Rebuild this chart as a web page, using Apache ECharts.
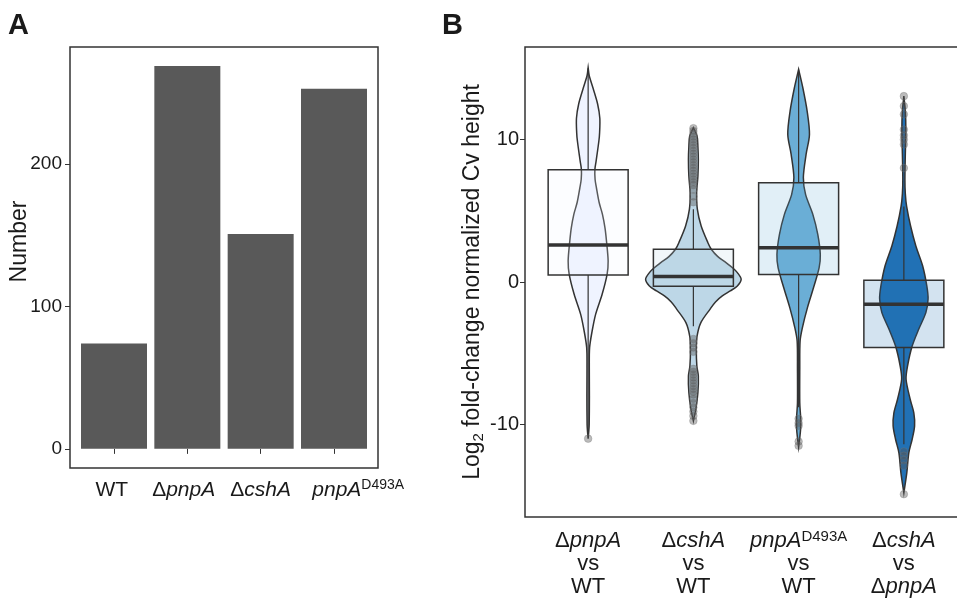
<!DOCTYPE html>
<html><head><meta charset="utf-8">
<script src="https://cdn.jsdelivr.net/npm/echarts@6/dist/echarts.min.js"></script>
<style>html,body{margin:0;padding:0;background:#fff}#c{width:957px;height:601px}</style>
</head><body><div id="c"></div>
<script>
// ---------- Panel A data ----------
const countCategories = ['WT', 'ΔpnpA', 'ΔcshA', 'pnpA^D493A'];
const countValues = [74, 269, 151, 253];
const countTicks = [0, 100, 200];

// ---------- Panel B data ----------
const compareCategories = [
  ['ΔpnpA', 'vs', 'WT'],
  ['ΔcshA', 'vs', 'WT'],
  ['pnpA^D493A', 'vs', 'WT'],
  ['ΔcshA', 'vs', 'ΔpnpA']
];
const fcTicks = [-10, 0, 10];
const violinColors = ['#eff3ff', '#bdd7e7', '#6baed6', '#2171b5'];

const boxQ1 = [0.49, -0.30, 0.52, -4.60];
const boxMedian = [2.60, 0.38, 2.41, -1.56];
const boxQ3 = [7.89, 2.30, 6.97, 0.12];
const whiskerLow = [-10.45, -3.1, -8.8, -11.4];
const whiskerHigh = [15.0, 5.1, 14.9, 5.3];

// violin outlines: [log2FC, half-width]
const violin1 = [[15.05,0],[14.5,0.01],[13.6,0.047],[12.5,0.09],[11.5,0.111],[10.5,0.109],[9.9,0.102],[8.5,0.076],[7.9,0.064],[7.2,0.066],[6.6,0.079],[5.6,0.104],[4.75,0.136],[3.8,0.16],[2.9,0.174],[1.47,0.19],[0.54,0.18],[-0.86,0.133],[-2.27,0.071],[-3.44,0.038],[-4.6,0.014],[-6,0.011],[-8,0.012],[-10,0.01],[-10.5,0.006],[-11.0,0]];
const violin2 = [[10.83,0],[10.25,0.035],[9.5,0.043],[8.6,0.047],[7.44,0.043],[6.27,0.031],[5.1,0.038],[3.93,0.074],[2.76,0.138],[2.3,0.17],[1.8,0.23],[1.36,0.31],[0.95,0.38],[0.66,0.418],[0.19,0.454],[-0.28,0.418],[-0.63,0.35],[-0.98,0.275],[-1.4,0.21],[-1.9,0.159],[-2.85,0.071],[-3.8,0.035],[-4.7,0.028],[-5.9,0.033],[-6.6,0.047],[-7.76,0.043],[-8.9,0.024],[-9.75,0]];
const violin3 = [[14.93,0],[13.64,0.04],[12.0,0.081],[10.36,0.103],[8.96,0.071],[7.33,0.045],[6.15,0.066],[4.75,0.135],[3.35,0.182],[1.94,0.206],[1.01,0.195],[-0.39,0.142],[-1.8,0.084],[-3.2,0.036],[-4.14,0.014],[-6,0.011],[-8.5,0.011],[-9.5,0.019],[-10.3,0.019],[-11,0.01],[-11.6,0]];
const violin4 = [[13.05,0],[12,0.014],[10.7,0.019],[9,0.014],[7.2,0.01],[6.2,0.014],[5.33,0.026],[3.93,0.064],[2.53,0.114],[1.12,0.179],[-0.28,0.218],[-1.2,0.23],[-2.15,0.209],[-3.3,0.142],[-4.5,0.079],[-5.9,0.035],[-6.83,0.021],[-8.23,0.06],[-9.2,0.095],[-10.1,0.102],[-11.04,0.079],[-12.0,0.047],[-13.4,0.028],[-14.8,0]];

const outliers1 = [-11.0];
const outliers2 = [5.6,6.0,6.5,6.8,7.0,7.2,7.4,7.6,7.8,8.0,8.2,8.4,8.6,8.8,9.0,9.2,9.4,9.6,9.8,10.0,10.2,10.4,10.6,10.8,-4.0,-4.3,-4.6,-4.9,-6.1,-6.3,-6.5,-6.7,-6.9,-7.1,-7.3,-7.5,-7.7,-7.9,-8.2,-8.5,-8.8,-9.1,-9.4,-9.75];
const outliers3 = [-9.6,-9.9,-10.1,-11.2,-11.5];
const outliers4 = [8.0,9.66,10.0,10.3,10.7,11.77,12.35,13.05,-11.9,-12.2,-12.5,-12.9,-14.9];

const violins = [violin1, violin2, violin3, violin4];
const outliers = [outliers1, outliers2, outliers3, outliers4];

function richLabel(s) {
  let main = s, sup = '', out = '';
  if (s.indexOf('^') >= 0) { const p = s.split('^'); main = p[0]; sup = p[1]; }
  if (main.charAt(0) === 'Δ') { out += '{d|Δ}'; main = main.slice(1); }
  const plain = (main === 'WT' || main === 'vs');
  out += '{' + (plain ? 'n' : 'i') + '|' + main + '}';
  if (sup) out += '{s|' + sup + '}';
  return out;
}

const FONT = '"Liberation Sans", Arial, Helvetica, sans-serif';
const INK = '#333333';
function rich(fs, supFs, lh) {
  return {
    n: { fontFamily: FONT, fontSize: fs, color: '#1a1a1a', lineHeight: lh },
    d: { fontFamily: FONT, fontSize: fs, color: '#1a1a1a', lineHeight: lh },
    i: { fontFamily: FONT, fontSize: fs, fontStyle: 'italic', color: '#1a1a1a', lineHeight: lh },
    s: { fontFamily: FONT, fontSize: supFs, color: '#1a1a1a', verticalAlign: 'top', lineHeight: supFs }
  };
}

const chart = echarts.init(document.getElementById('c'), null, { renderer: 'canvas' });

const option = {
  backgroundColor: '#ffffff',
  animation: false,
  title: [
    { text: 'A', left: 3, top: 6, textStyle: { fontFamily: FONT, fontWeight: 'bold', fontSize: 29, color: '#1a1a1a' } },
    { text: 'B', left: 437, top: 6, textStyle: { fontFamily: FONT, fontWeight: 'bold', fontSize: 29, color: '#1a1a1a' } }
  ],
  grid: [
    { left: 70, top: 47, width: 308, height: 421, show: true, borderColor: INK, borderWidth: 1.5, backgroundColor: 'transparent', outerBoundsMode: 'none' },
    { left: 525, top: 47, width: 442, height: 470, show: true, borderColor: INK, borderWidth: 1.5, backgroundColor: 'transparent', outerBoundsMode: 'none' }
  ],
  xAxis: [
    {
      gridIndex: 0, type: 'value', min: 0.4, max: 4.6,
      axisLine: { show: false }, splitLine: { show: false },
      axisTick: { show: true, customValues: [1, 2, 3, 4], length: 5, lineStyle: { color: INK, width: 1 } },
      axisLabel: {
        // the last label sits a little right of its tick in the reference
        customValues: [0.97, 1.95, 3.0, 4.33], margin: 10, hideOverlap: false,
        formatter: function (v) {
          const idx = Math.round(v) - 1;
          return richLabel(countCategories[idx]);
        },
        rich: rich(21, 14, 24)
      }
    },
    {
      gridIndex: 1, type: 'value', min: 0.4, max: 4.6,
      axisLine: { show: false }, splitLine: { show: false },
      axisTick: { show: true, customValues: [1, 2, 3, 4], length: 5, lineStyle: { color: INK, width: 1 } },
      axisLabel: {
        customValues: [1, 2, 3, 4], margin: 12, hideOverlap: false,
        formatter: function (v) {
          const idx = Math.round(v) - 1;
          return compareCategories[idx].map(richLabel).join('\n');
        },
        rich: rich(22, 15, 23)
      }
    }
  ],
  yAxis: [
    {
      gridIndex: 0, type: 'value', min: -13.45, max: 282.4,
      axisLine: { show: false }, splitLine: { show: false },
      axisTick: { show: true, customValues: countTicks, length: 5, lineStyle: { color: INK, width: 1 } },
      axisLabel: { customValues: countTicks, margin: 8, fontFamily: FONT, fontSize: 19, color: '#1a1a1a' },
      name: 'Number', nameLocation: 'middle', nameGap: 37, nameMoveOverlap: false,
      nameTextStyle: { fontFamily: FONT, fontSize: 23, color: '#1a1a1a', lineHeight: 26, padding: [0, 0, 0, 32] }
    },
    {
      gridIndex: 1, type: 'value', min: -16.5, max: 16.5,
      axisLine: { show: false }, splitLine: { show: false },
      axisTick: { show: true, customValues: fcTicks, length: 5, lineStyle: { color: INK, width: 1 } },
      axisLabel: { customValues: fcTicks, margin: 6, fontFamily: FONT, fontSize: 20, color: '#1a1a1a' },
      name: '{n|Log}{b|2}{n| fold-change normalized Cv height}', nameLocation: 'middle', nameGap: 39, nameMoveOverlap: false,
      nameTextStyle: {
        rich: {
          n: { fontFamily: FONT, fontSize: 23, color: '#1a1a1a', lineHeight: 26 },
          b: { fontFamily: FONT, fontSize: 15, color: '#1a1a1a', verticalAlign: 'bottom', lineHeight: 15 }
        }
      }
    }
  ],
  series: [
    {
      type: 'bar', xAxisIndex: 0, yAxisIndex: 0,
      barWidth: 66,
      itemStyle: { color: '#595959' },
      data: countValues.map((v, i) => [i + 1, v])
    },
    {
      type: 'custom', xAxisIndex: 1, yAxisIndex: 1,
      data: boxMedian.map((m, i) => [i + 1, m]),
      renderItem: function (params, api) {
        const i = params.dataIndex;
        const x = api.value(0);
        const prof = violins[i];
        const pts = [];
        for (let k = 0; k < prof.length; k++) pts.push(api.coord([x + prof[k][1], prof[k][0]]));
        for (let k = prof.length - 1; k >= 0; k--) pts.push(api.coord([x - prof[k][1], prof[k][0]]));
        const hw = 0.38;
        const tl = api.coord([x - hw, boxQ3[i]]);
        const br = api.coord([x + hw, boxQ1[i]]);
        const mL = api.coord([x - hw, boxMedian[i]]);
        const mR = api.coord([x + hw, boxMedian[i]]);
        const wTop = api.coord([x, whiskerHigh[i]]);
        const q3 = api.coord([x, boxQ3[i]]);
        const q1 = api.coord([x, boxQ1[i]]);
        const wBot = api.coord([x, whiskerLow[i]]);
        const children = [];
        children.push({ type: 'polygon', shape: { points: pts, smooth: 0.3 },
          style: { fill: violinColors[i], stroke: INK, lineWidth: 1.5 } });
        children.push({ type: 'line', shape: { x1: wTop[0], y1: wTop[1], x2: q3[0], y2: q3[1] },
          style: { stroke: INK, lineWidth: 1.2 } });
        children.push({ type: 'line', shape: { x1: q1[0], y1: q1[1], x2: wBot[0], y2: wBot[1] },
          style: { stroke: INK, lineWidth: 1.2 } });
        children.push({ type: 'rect', shape: { x: tl[0], y: tl[1], width: br[0] - tl[0], height: br[1] - tl[1] },
          style: { fill: echarts.color.modifyAlpha(violinColors[i], 0.2), stroke: INK, lineWidth: 1.5 } });
        children.push({ type: 'line', shape: { x1: mL[0], y1: mL[1], x2: mR[0], y2: mR[1] },
          style: { stroke: INK, lineWidth: 3.5 } });
        outliers[i].forEach(function (o) {
          const c = api.coord([x, o]);
          children.push({ type: 'circle', shape: { cx: c[0], cy: c[1], r: 3.8 },
            style: { fill: 'rgba(85,85,85,0.4)', stroke: 'rgba(120,120,120,0.35)', lineWidth: 1 } });
        });
        return { type: 'group', children: children };
      }
    }
  ]
};
chart.setOption(option);
</script>
</body></html>
